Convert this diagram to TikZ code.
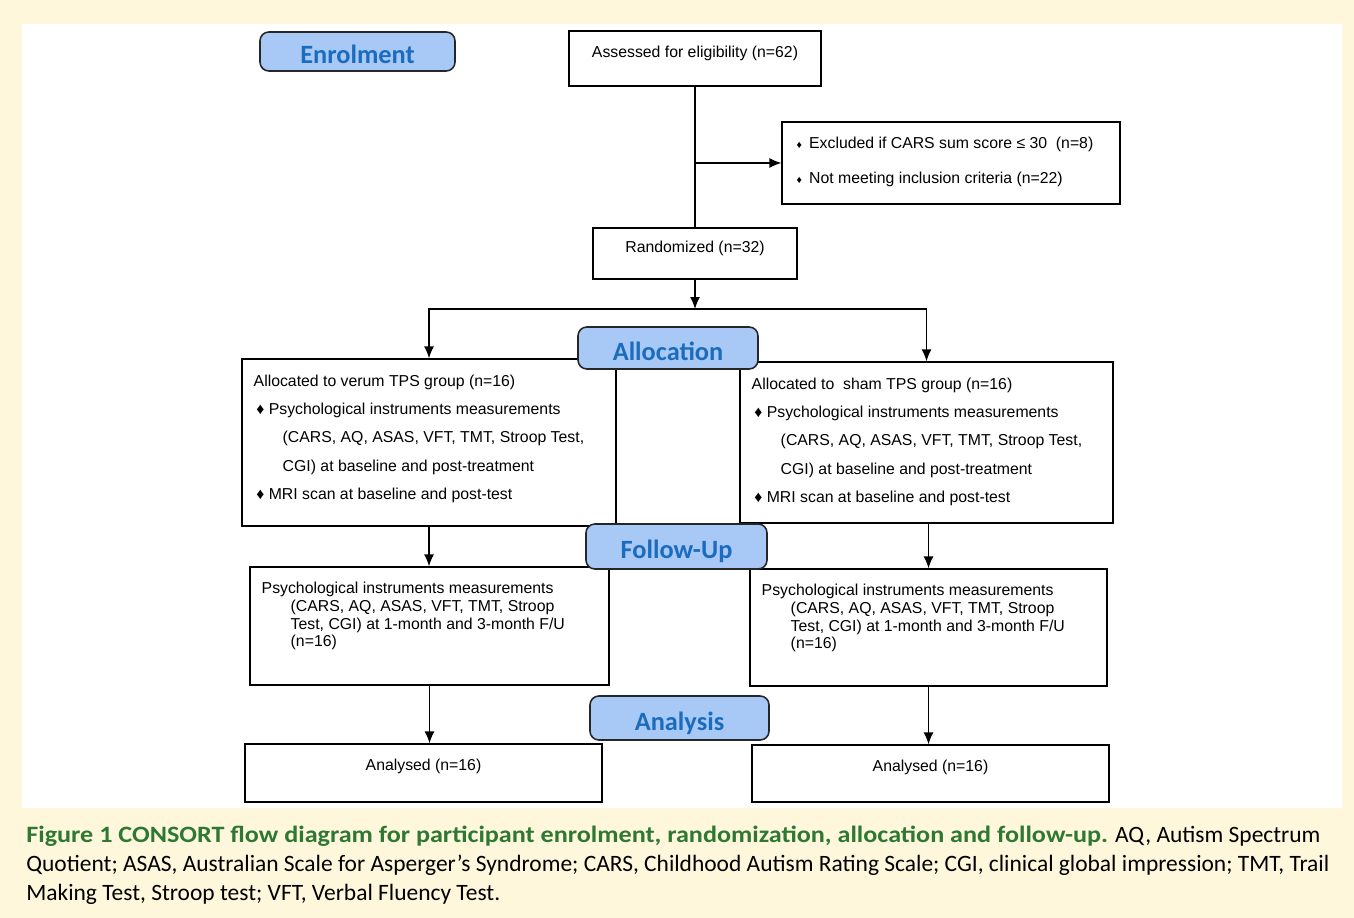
\documentclass[tikz,border=0pt]{standalone}
\usepackage{fontspec}
\setmainfont{Liberation Sans}
\newfontfamily\stagefont{Carlito}
\newfontfamily\capfont{Carlito}
\newfontfamily\capboldfont[FakeStretch=1.115]{Carlito}
\usetikzlibrary{positioning,arrows.meta}
\definecolor{cream}{RGB}{254,247,220}
\definecolor{stagefill}{RGB}{168,200,245}
\definecolor{stagetext}{RGB}{28,108,190}
\definecolor{capgreen}{RGB}{46,120,52}
\newcommand{\bul}{\hspace*{1.5pt}♦\ }
\newcommand{\sbul}{{\fontsize{6}{6}\selectfont ♦}\hspace{4pt}}
\newcommand{\ind}{\hspace*{0.58cm}}
\tikzset{
  box/.style={draw, line width=0.75pt, inner sep=0pt},
  stage/.style={draw=black!85, line width=0.9pt, fill=stagefill, rounded corners=5pt,
    text=stagetext, font=\stagefont\bfseries\fontsize{15}{17}\selectfont, inner sep=0pt,
    text height=14pt, text depth=0pt},
  intxt/.style={inner sep=0pt, font=\fontsize{9}{10.8}\selectfont, align=left},
  arr/.style={-{Latex[length=2.4mm,width=2mm]}, line width=0.75pt},
  link/.style={line width=0.75pt}
}
\begin{document}
\begin{tikzpicture}[x=0.02cm, y=-0.02cm]
% page and white panel
\fill[cream] (0,0) rectangle (1354,918);
\fill[white] (22,24) rectangle (1342,808);

% boxes
\node[box, minimum width=5.04cm, minimum height=1.1cm] (assess) at (695,58.5) {};
\node[box, minimum width=6.76cm, minimum height=1.64cm] (excl) at (951,163) {};
\node[box, minimum width=4.08cm, minimum height=1.02cm] (rand) at (695,253.5) {};
\node[box, minimum width=7.48cm, minimum height=3.34cm] (allocL) at (429,442.5) {};
\node[box, minimum width=7.46cm, minimum height=3.22cm] (allocR) at (926.5,442.5) {};
\node[box, minimum width=7.18cm, minimum height=2.36cm] (fuL) at (429.5,626) {};
\node[box, minimum width=7.14cm, minimum height=2.34cm] (fuR) at (928.5,627.5) {};
\node[box, minimum width=7.14cm, minimum height=1.16cm] (anL) at (423.5,773) {};
\node[box, minimum width=7.14cm, minimum height=1.14cm] (anR) at (930.5,773.5) {};

% texts in the boxes
\node[intxt, below=0.3cm of assess.north] (assessT) {Assessed for eligibility (n=62)};
\node[intxt, font=\fontsize{9}{20.4}\selectfont, below right=0.3cm and 0.3cm of excl.north west] (exclT)
  {\sbul Excluded if CARS sum score ≤ 30\ \ (n=8)\\ \sbul Not meeting inclusion criteria (n=22)};
\node[intxt, below=0.26cm of rand.north] (randT) {Randomized (n=32)};
\node[intxt, font=\fontsize{9}{16.1}\selectfont, below right=0.32cm and 0.24cm of allocL.north west] (allocLT)
  {Allocated to verum TPS group (n=16)\\ \bul Psychological instruments measurements\\
   \ind(CARS, AQ, ASAS, VFT, TMT, Stroop Test,\\ \ind CGI) at baseline and post-treatment\\
   \bul MRI scan at baseline and post-test};
\node[intxt, font=\fontsize{9}{16.1}\selectfont, below right=0.32cm and 0.24cm of allocR.north west] (allocRT)
  {Allocated to\ \ sham TPS group (n=16)\\ \bul Psychological instruments measurements\\
   \ind(CARS, AQ, ASAS, VFT, TMT, Stroop Test,\\ \ind CGI) at baseline and post-treatment\\
   \bul MRI scan at baseline and post-test};
\node[intxt, font=\fontsize{9}{10.2}\selectfont, below right=0.3cm and 0.24cm of fuL.north west] (fuLT)
  {Psychological instruments measurements\\ \ind(CARS, AQ, ASAS, VFT, TMT, Stroop\\
   \ind Test, CGI) at 1-month and 3-month F/U\\ \ind(n=16)};
\node[intxt, font=\fontsize{9}{10.2}\selectfont, below right=0.3cm and 0.24cm of fuR.north west] (fuRT)
  {Psychological instruments measurements\\ \ind(CARS, AQ, ASAS, VFT, TMT, Stroop\\
   \ind Test, CGI) at 1-month and 3-month F/U\\ \ind(n=16)};
\node[intxt, below=0.3cm of anL.north] (anLT) {Analysed (n=16)};
\node[intxt, below=0.3cm of anR.north] (anRT) {Analysed (n=16)};

% connectors
\coordinate (branch) at (assess.south |- excl.west);
\coordinate (split) at (695,309);
\draw[link] (assess.south) -- (rand.north);
\draw[arr] (branch) -- (excl.west);
\draw[arr] (rand.south) -- (split);
\draw[arr] (split) -| (allocL.north);
\draw[arr] (split) -| (allocR.north);
\draw[arr] (allocL.south) -- (allocL.south |- fuL.north);
\draw[arr] (fuR.north |- allocR.south) -- (fuR.north);
\draw[arr] (fuL.south) -- (fuL.south |- anL.north);
\draw[arr] (fuR.south) -- (fuR.south |- anR.north);

% stage labels
\node[stage, minimum width=3.9cm, minimum height=0.78cm] (enrol) at (357.5,51.5) {Enrolment};
\node[stage, minimum width=3.6cm, minimum height=0.84cm] (alloc) at (668,348) {Allocation};
\node[stage, minimum width=3.62cm, minimum height=0.9cm] (follow) at (676.5,546.5) {Follow-Up};
\node[stage, minimum width=3.58cm, minimum height=0.88cm] (analysis) at (679.5,718) {Analysis};

% caption
\node[anchor=north west, inner sep=0pt, align=left, font=\capfont\fontsize{13.35}{16.4}\selectfont] (caption) at (26,826)
  {\textcolor{capgreen}{\capboldfont\bfseries Figure 1 CONSORT flow diagram for participant enrolment, randomization, allocation and follow-up.} AQ, Autism Spectrum\\
   Quotient; ASAS, Australian Scale for Asperger’s Syndrome; CARS, Childhood Autism Rating Scale; CGI, clinical global impression; TMT, Trail\\
   Making Test, Stroop test; VFT, Verbal Fluency Test.};
\end{tikzpicture}
\end{document}
